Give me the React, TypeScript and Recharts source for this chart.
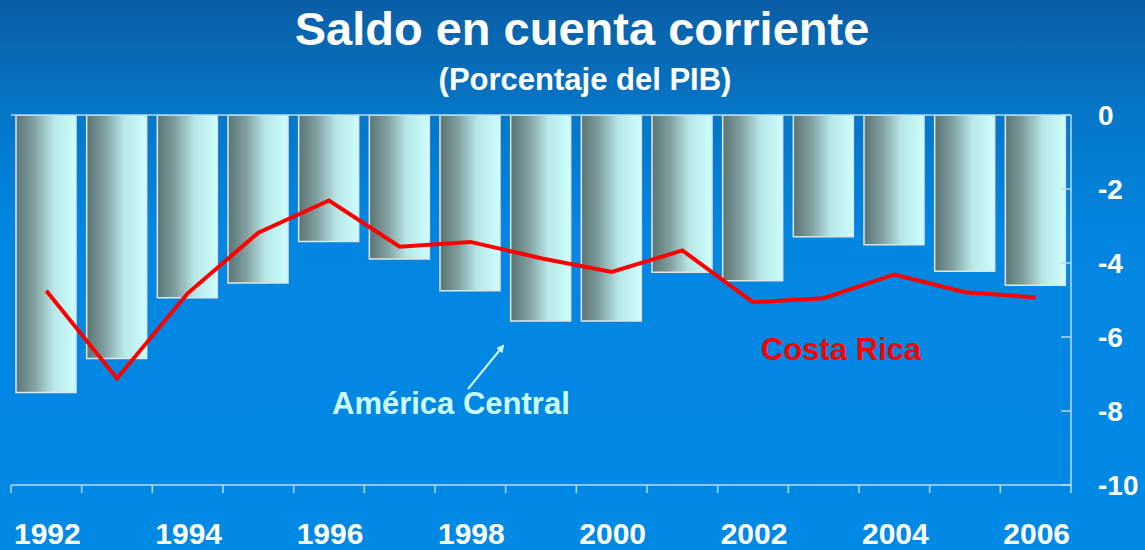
import React from 'react';
import { ComposedChart, Bar, Line, XAxis, YAxis, ReferenceLine } from 'recharts';

const years = ['1992', '1993', '1994', '1995', '1996', '1997', '1998', '1999', '2000', '2001', '2002', '2003', '2004', '2005', '2006'];
const americaCentral = [-7.5, -6.58, -4.94, -4.54, -3.42, -3.89, -4.75, -5.57, -5.57, -4.25, -4.48, -3.29, -3.51, -4.22, -4.6];
const costaRica = [-4.75, -7.12, -4.82, -3.18, -2.31, -3.56, -3.43, -3.87, -4.24, -3.66, -5.06, -4.95, -4.31, -4.79, -4.93];
const yTicks = [0, -2, -4, -6, -8, -10];
const shownYears = ['1992', '1994', '1996', '1998', '2000', '2002', '2004', '2006'];

const data = years.map((y, i) => ({ year: y, ac: americaCentral[i], cr: costaRica[i] }));

const FONT = '"Liberation Sans", Arial, Helvetica, sans-serif';
const AXIS_COLOR = '#b4dcf4';

const W = 1145;
const H = 550;
const M = { top: 115, left: 11, right: 0, bottom: 0 };
const Y_AXIS_W = 74;
const X_AXIS_H = 65;
const PLOT_W = W - M.left - M.right - Y_AXIS_W;
const BAND = PLOT_W / years.length;

const XTick = (props: any) => {
  const { x, y, payload, index } = props;
  const left = x - BAND / 2;
  const isLast = index === years.length - 1;
  const label = String(payload.value);
  return (
    <g>
      <line x1={left} x2={left} y1={y} y2={y + 8} stroke={AXIS_COLOR} strokeWidth={1.5} />
      {isLast && <line x1={x + BAND / 2} x2={x + BAND / 2} y1={y} y2={y + 8} stroke={AXIS_COLOR} strokeWidth={1.5} />}
      {shownYears.includes(label) && (
        <text x={x + 1} y={y + 59} textAnchor="middle" fill="#ffffff" fontFamily={FONT} fontWeight="bold" fontSize={30}>
          {label}
        </text>
      )}
    </g>
  );
};

const YTick = (props: any) => {
  const { x, y, payload } = props;
  return (
    <g>
      <line x1={x - 37} x2={x - 27} y1={y} y2={y} stroke={AXIS_COLOR} strokeWidth={1.5} />
      <text x={x} y={y + 10} textAnchor="start" fill="#ffffff" fontFamily={FONT} fontWeight="bold" fontSize={28}>
        {payload.value}
      </text>
    </g>
  );
};

export default function App() {
  return (
    <div
      style={{
        position: 'absolute',
        left: 0,
        top: 0,
        width: W,
        height: H,
        overflow: 'hidden',
        background: 'linear-gradient(to bottom, #0a5ea6 0%, #0576c6 20%, #0286e1 42%, #0189e6 100%)',
        fontFamily: FONT,
      }}
    >
      <ComposedChart width={W} height={H} data={data} margin={M}>
        <defs>
          <linearGradient id="barGrad" x1="0" y1="0" x2="1" y2="0">
            <stop offset="0%" stopColor="#5a7573" />
            <stop offset="30%" stopColor="#809f9f" />
            <stop offset="62%" stopColor="#b8e6e6" />
            <stop offset="100%" stopColor="#ccffff" />
          </linearGradient>
        </defs>
        <XAxis
          dataKey="year"
          interval={0}
          height={X_AXIS_H}
          axisLine={{ stroke: AXIS_COLOR, strokeWidth: 1.5 }}
          tickLine={false}
          tickSize={0}
          tickMargin={0}
          tick={<XTick />}
        />
        <YAxis
          orientation="right"
          domain={[-10, 0]}
          ticks={yTicks}
          width={Y_AXIS_W}
          axisLine={{ stroke: AXIS_COLOR, strokeWidth: 1.5 }}
          tickLine={false}
          tickSize={0}
          tickMargin={27}
          tick={<YTick />}
          allowDataOverflow
        />
        <Bar dataKey="ac" barSize={60} fill="url(#barGrad)" stroke="#dde6e6" strokeWidth={1.5} isAnimationActive={false} />
        <ReferenceLine y={0} stroke={AXIS_COLOR} strokeWidth={1.5} />
        <Line dataKey="cr" type="linear" stroke="#ff0000" strokeWidth={4} dot={false} isAnimationActive={false} />
      </ComposedChart>
      <svg width={W} height={H} style={{ position: 'absolute', left: 0, top: 0, pointerEvents: 'none' }}>
        <defs>
          <marker id="arrowHead" markerWidth="8" markerHeight="8" refX="6" refY="4" orient="auto" markerUnits="userSpaceOnUse">
            <path d="M0,0 L8,4 L0,8 Z" fill="#ccffff" />
          </marker>
        </defs>
        <text x={582} y={45} textAnchor="middle" fill="#ffffff" fontFamily={FONT} fontWeight="bold" fontSize={47}>
          Saldo en cuenta corriente
        </text>
        <text x={585} y={90} textAnchor="middle" fill="#ffffff" fontFamily={FONT} fontWeight="bold" fontSize={31}>
          (Porcentaje del PIB)
        </text>
        <line x1={468} y1={389} x2={503} y2={346} stroke="#ccffff" strokeWidth={2} markerEnd="url(#arrowHead)" />
        <text x={332} y={414} fill="#ccffff" fontFamily={FONT} fontWeight="bold" fontSize={31}>
          América Central
        </text>
        <text x={761} y={360} fill="#ff0000" fontFamily={FONT} fontWeight="bold" fontSize={31}>
          Costa Rica
        </text>
      </svg>
    </div>
  );
}
